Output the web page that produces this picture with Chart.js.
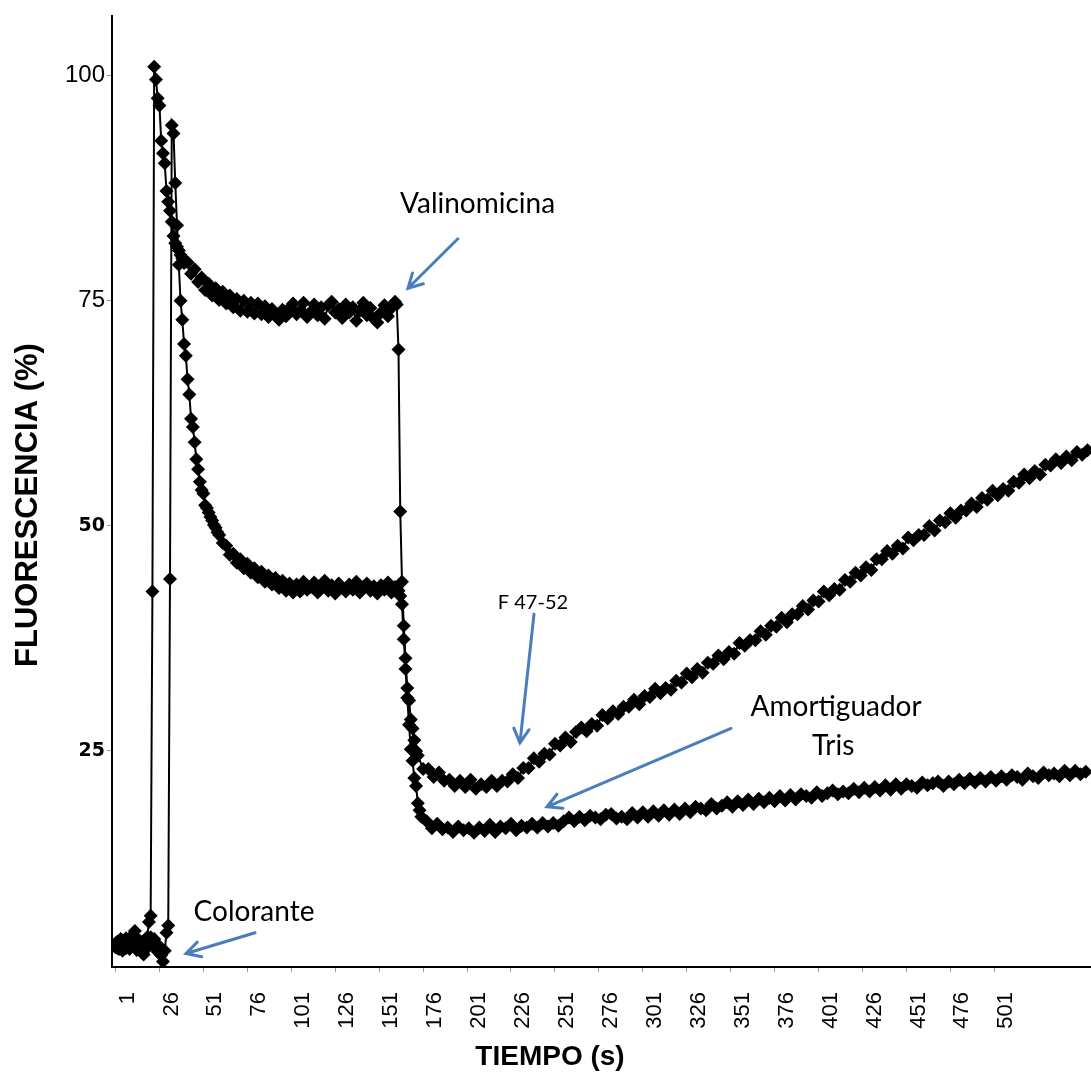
<!DOCTYPE html>
<html>
<head>
<meta charset="utf-8">
<script src="https://cdn.jsdelivr.net/npm/chart.js@4.4.1/dist/chart.umd.min.js"></script>
<style>
  html, body { margin: 0; padding: 0; background: #fff; }
  #wrap { width: 1091px; height: 1072px; }
</style>
</head>
<body>
<div id="wrap"><canvas id="fluorChart" width="1091" height="1072"></canvas></div>
<script>
// Tick labels of the time axis (s)
const xTickValues = [1, 26, 51, 76, 101, 126, 151, 176, 201, 226, 251, 276, 301, 326, 351, 376, 401, 426, 451, 476, 501];
const yTickValues = [25, 50, 75, 100];

// Curve 1 (Colorante -> ~74 % -> Valinomicina -> F 47-52)
// t = 1..40, every 1 s
const curva1Inicio = [3.2, 3.8, 3.0, 4.1, 3.4, 3.9, 3.1, 4.0, 3.5, 4.4, 3.7, 5.0, 4.2, 3.3, 3.9, 3.1, 2.4, 3.6, 4.3, 6.0,
  6.7, 42.7, 101.0, 99.6, 97.5, 96.7, 92.8, 91.4, 90.3, 87.2, 86.0, 85.0, 83.8, 82.2, 81.4, 81.0, 80.6, 80.1, 79.7, 79.2];
// t = 42..160, every 2 s
const curva1Meseta = [79.3, 78.0, 78.5, 77.1, 77.6, 76.2, 76.9, 75.6, 76.4, 75.1, 76.0, 74.7, 75.6, 74.3, 75.2, 73.9, 75.0, 73.8, 74.8, 73.6,
  74.7, 73.5, 74.4, 73.2, 74.1, 73.6, 72.9, 74.0, 73.3, 74.2, 74.7, 73.5, 73.9, 74.8, 73.2, 73.8, 74.6, 73.4, 74.3, 73.0,
  74.5, 74.9, 73.7, 74.1, 73.1, 74.6, 73.7, 74.3, 72.8, 73.9, 74.8, 73.4, 74.2, 73.0, 72.6, 73.7, 74.5, 73.3, 74.2, 74.9];
// t = 161..172, every 1 s
const curva1Caida = [74.6, 69.6, 51.6, 43.8, 38.9, 35.3, 32.0, 30.6, 28.5, 27.5, 26.2, 25.0];
// t = 173..554, every 3 s
const curva1Subida = [24.5, 23.0, 23.0, 22.1, 22.6, 21.7, 21.8, 21.1, 21.7, 21.0,
  21.8, 20.8, 21.3, 21.0, 21.7, 21.1, 21.7, 21.6, 22.4, 22.0,
  23.1, 23.1, 24.2, 23.8, 24.7, 24.6, 25.8, 25.6, 26.5, 26.0,
  27.1, 27.6, 27.2, 28.0, 27.8, 29.0, 28.6, 29.4, 29.1, 29.9,
  29.9, 30.7, 30.2, 31.1, 31.0, 31.9, 31.4, 32.0, 31.8, 32.8,
  32.6, 33.6, 33.2, 34.1, 33.7, 34.8, 34.7, 35.6, 35.2, 36.0,
  35.8, 37.0, 36.7, 37.3, 37.3, 38.3, 37.9, 38.9, 38.8, 39.8,
  39.3, 40.2, 40.2, 41.1, 40.7, 41.7, 41.6, 42.7, 42.3, 43.0,
  42.9, 44.0, 43.8, 44.8, 44.5, 45.4, 45.1, 46.3, 46.3, 47.2,
  46.9, 47.8, 47.5, 48.7, 48.4, 49.0, 49.0, 50.0, 49.5, 50.6,
  50.4, 51.4, 50.9, 51.7, 51.7, 52.5, 52.1, 53.1, 52.9, 53.9,
  53.4, 54.1, 53.9, 54.9, 54.8, 55.7, 55.3, 56.1, 55.7, 56.8,
  56.7, 57.4, 57.0, 57.7, 57.3, 58.2, 57.9, 58.4];

// Curve 2 (Colorante -> ~43 % -> Valinomicina -> Amortiguador Tris)
// t = 1..59, every 1 s
const curva2Inicio = [3.6, 3.1, 3.9, 3.3, 2.8, 3.5, 4.2, 3.6, 3.0, 3.7, 4.4, 3.4, 2.9, 3.8, 3.2, 2.6, 3.4, 4.0, 3.1, 3.6,
  4.3, 3.5, 4.1, 3.4, 2.7, 3.3, 2.3, 1.6, 2.8, 4.8, 5.6, 44.1, 94.5, 93.6, 88.1, 83.4, 79.0, 75.0, 72.9, 70.2,
  68.9, 66.3, 64.6, 61.9, 61.0, 59.3, 57.4, 56.3, 54.9, 54.0, 53.6, 52.3, 52.0, 51.5, 51.0, 50.6, 50.1, 49.8, 49.3];
// t = 60..162, every 2 s
const curva2Meseta = [49.0, 48.1, 47.8, 46.8, 46.9, 45.9, 46.3, 45.3, 45.8, 44.8, 45.3, 44.3, 44.9, 43.8, 44.5, 43.5, 44.2, 43.1, 43.9, 42.8,
  43.6, 42.6, 43.5, 42.7, 43.8, 42.9, 43.2, 43.7, 42.6, 43.3, 43.9, 42.8, 43.4, 42.5, 43.6, 43.1, 42.7, 43.5, 42.9, 43.8,
  42.6, 43.2, 43.6, 42.8, 43.3, 42.5, 43.4, 42.9, 43.7, 42.6, 43.2, 42.8];
// t = 163..175, every 1 s
const curva2Caida = [42.2, 41.3, 37.4, 34.1, 30.9, 27.9, 25.2, 23.9, 22.0, 21.1, 19.2, 18.4, 17.7];
// t = 178..553, every 3 s
const curva2Subida = [17.2, 16.4, 16.9, 16.3, 16.5, 16.0, 16.6, 16.2, 16.4, 15.9,
  16.5, 16.1, 16.8, 16.0, 16.6, 16.4, 16.9, 16.2, 16.7, 16.5,
  16.9, 16.5, 17.0, 16.6, 17.0, 16.7, 17.2, 17.6, 17.2, 17.7,
  17.3, 17.8, 17.6, 17.4, 17.9, 18.0, 17.5, 17.7, 17.4, 18.1,
  17.6, 18.2, 17.7, 18.3, 17.8, 18.4, 17.9, 18.5, 18.0, 18.6,
  18.2, 18.8, 18.6, 18.4, 19.1, 18.6, 18.9, 19.3, 18.8, 19.4,
  19.0, 19.6, 19.1, 19.7, 19.3, 19.8, 19.4, 20.0, 19.5, 20.1,
  19.6, 20.2, 20.0, 19.8, 20.4, 20.0, 20.3, 20.6, 20.2, 20.5,
  20.3, 20.8, 20.4, 20.9, 20.5, 21.0, 20.6, 21.2, 20.7, 21.3,
  20.8, 21.3, 21.1, 20.9, 21.5, 21.2, 21.4, 21.6, 21.1, 21.6,
  21.3, 21.8, 21.4, 21.9, 21.5, 22.0, 21.6, 22.1, 21.7, 22.2,
  21.8, 22.3, 22.1, 21.8, 22.5, 22.2, 22.0, 22.6, 22.3, 22.5,
  22.2, 22.8, 22.3, 22.8, 22.4, 22.7];

// Annotations (text and arrows), in data coordinates (s, %)
const notas = [
  { texto: 'Valinomicina', t: 207.0, v: 85.8, size: 28 },
  { texto: 'F 47-52', t: 238.5, v: 41.5, size: 20 },
  { texto: 'Amortiguador', t: 411.0, v: 29.9, size: 28 },
  { texto: 'Tris', t: 409.3, v: 25.6, size: 28 },
  { texto: 'Colorante', t: 79.8, v: 7.1, size: 28 }
];
const flechas = [
  { desde: [195.8, 81.9], hasta: [167.4, 76.4] },
  { desde: [239.1, 40.2], hasta: [231.1, 25.9] },
  { desde: [351.2, 27.5], hasta: [246.5, 18.8] },
  { desde: [80.4, 4.8], hasta: [41.1, 2.5] }
];

// Turn a sampled block (start second, step in s) into {x, y} points
function segmento(inicio, paso, valores) {
    return valores.map((v, i) => ({ x: inicio + i * paso, y: v }));
}

const serie1 = [
    ...segmento(1, 1, curva1Inicio),
    ...segmento(42, 2, curva1Meseta),
    ...segmento(161, 1, curva1Caida),
    ...segmento(173, 3, curva1Subida)
];
const serie2 = [
    ...segmento(1, 1, curva2Inicio),
    ...segmento(60, 2, curva2Meseta),
    ...segmento(163, 1, curva2Caida),
    ...segmento(178, 3, curva2Subida)
];

// Draw annotations and axis titles
const anotacionesPlugin = {
    id: 'anotaciones',
    afterDraw(chart) {
        const ctx = chart.ctx;
        const xs = chart.scales.x;
        const ys = chart.scales.y;
        ctx.save();

        // arrows
        ctx.strokeStyle = '#4a7ebb';
        ctx.lineWidth = 3;
        ctx.lineCap = 'round';
        flechas.forEach(f => {
            const x1 = xs.getPixelForValue(f.desde[0]);
            const y1 = ys.getPixelForValue(f.desde[1]);
            const x2 = xs.getPixelForValue(f.hasta[0]);
            const y2 = ys.getPixelForValue(f.hasta[1]);
            const ang = Math.atan2(y2 - y1, x2 - x1);
            const head = 16;
            ctx.beginPath();
            ctx.moveTo(x1, y1);
            ctx.lineTo(x2, y2);
            ctx.moveTo(x2 - head * Math.cos(ang - 0.5), y2 - head * Math.sin(ang - 0.5));
            ctx.lineTo(x2, y2);
            ctx.lineTo(x2 - head * Math.cos(ang + 0.5), y2 - head * Math.sin(ang + 0.5));
            ctx.stroke();
        });

        // labels
        ctx.fillStyle = '#000';
        ctx.textAlign = 'center';
        ctx.textBaseline = 'middle';
        notas.forEach(n => {
            ctx.font = n.size + 'px Lato';
            ctx.fillText(n.texto, xs.getPixelForValue(n.t), ys.getPixelForValue(n.v));
        });

        // axis titles
        ctx.font = 'bold 28px "Liberation Sans"';
        ctx.fillText('TIEMPO (s)', 550, 1057);
        ctx.translate(28, 505);
        ctx.rotate(-Math.PI / 2);
        ctx.font = 'bold 31px "Liberation Sans"';
        ctx.fillText('FLUORESCENCIA (%)', 0, 0);
        ctx.restore();
    }
};

const estiloSerie = {
    borderColor: '#000',
    backgroundColor: '#000',
    borderWidth: 2,
    pointStyle: 'rectRot',
    pointRadius: 7,
    pointBackgroundColor: '#000',
    pointBorderWidth: 0,
    tension: 0
};

const ctx = document.getElementById('fluorChart').getContext('2d');
new Chart(ctx, {
    type: 'line',
    data: {
        datasets: [
            { label: 'F 47-52', data: serie1, ...estiloSerie },
            { label: 'Amortiguador Tris', data: serie2, ...estiloSerie }
        ]
    },
    options: {
        responsive: false,
        animation: false,
        devicePixelRatio: 1,
        layout: { autoPadding: false, padding: { top: 12, left: 0, right: 0, bottom: 0 } },
        plugins: {
            legend: { display: false },
            tooltip: { enabled: false }
        },
        scales: {
            x: {
                type: 'linear',
                min: -1,
                max: 556,
                afterBuildTicks: axis => { axis.ticks = xTickValues.map(v => ({ value: v })); },
                afterFit: axis => { axis.height = 105; },
                border: { display: true, color: '#000', width: 2 },
                grid: { display: true, drawOnChartArea: false, drawTicks: true, tickLength: 5, color: '#999' },
                ticks: {
                    autoSkip: false,
                    minRotation: 90,
                    maxRotation: 90,
                    labelOffset: 12,
                    padding: 20,
                    color: '#000',
                    font: { family: '"Liberation Sans", Arial, sans-serif', size: 22 }
                }
            },
            y: {
                min: 1,
                max: 106.6,
                afterBuildTicks: axis => { axis.ticks = yTickValues.map(v => ({ value: v })); },
                afterFit: axis => { axis.width = 112; },
                border: { display: true, color: '#000', width: 2 },
                grid: { display: true, drawOnChartArea: false, drawTicks: true, tickLength: 5, color: '#999' },
                ticks: {
                    padding: 2,
                    color: '#000',
                    font: c => (c.tick && c.tick.value <= 50)
                        ? { family: '"DejaVu Sans", sans-serif', size: 19, weight: 'bold' }
                        : { family: '"Liberation Sans", Arial, sans-serif', size: 24 }
                }
            }
        }
    },
    plugins: [anotacionesPlugin]
});
</script>
</body>
</html>
